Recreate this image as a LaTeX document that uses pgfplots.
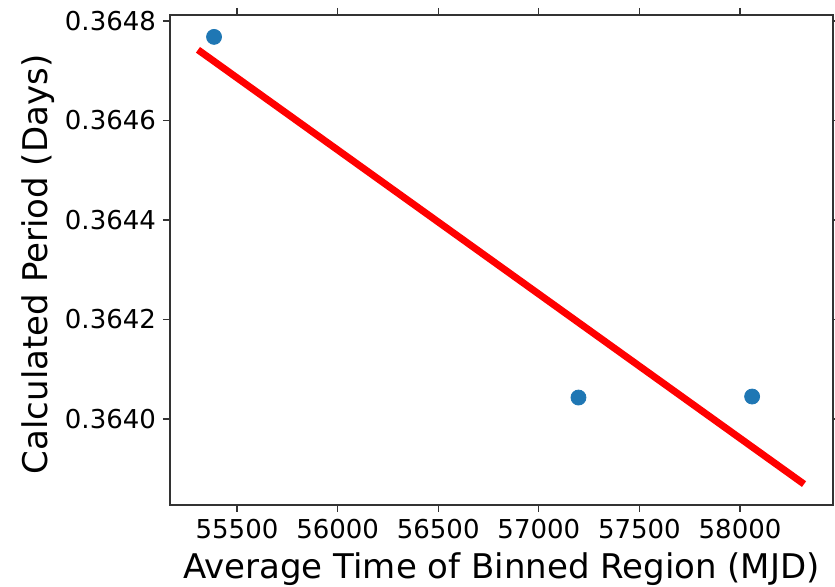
\documentclass[border=0pt]{standalone}
\usepackage{pgfplots}
\pgfplotsset{compat=1.18}
\usepackage{fontspec}
\setmainfont{DejaVu Sans}
\definecolor{mplblue}{HTML}{1F77B4}
\begin{document}
\begin{tikzpicture}
\begin{axis}[
  at={(0,0)}, anchor=south west,
  width=331.5pt, height=245pt, scale only axis,
  xmin=55167, xmax=58462,
  ymin=0.363827, ymax=0.364812,
  xtick={55500,56000,56500,57000,57500,58000},
  ytick={0.3640,0.3642,0.3644,0.3646,0.3648},
  scaled ticks=false,
  /pgf/number format/assume math mode=true,
  xticklabel style={/pgf/number format/set thousands separator={}, font=\fontsize{13pt}{15pt}\selectfont},
  yticklabel style={/pgf/number format/fixed, /pgf/number format/fixed zerofill, /pgf/number format/precision=4, font=\fontsize{13pt}{15pt}\selectfont},
  tick align=outside,
  major tick length=3.5pt,
  every tick/.style={black!80, line width=0.6pt},
  axis line style={black!80, line width=0.7pt},
  xlabel={Average Time of Binned Region (MJD)},
  ylabel={Calculated Period (Days)},
  xlabel style={font=\fontsize{17pt}{20pt}\selectfont, at={(axis description cs:0.5,-0.151)}, anchor=base},
  ylabel style={font=\fontsize{17pt}{20pt}\selectfont, at={(axis description cs:-0.1855,0.491)}, anchor=base},
  clip=false,
]
\addplot[red, line width=3.5pt] coordinates {(55306,0.364742) (58318,0.363869)};
\addplot[only marks, mark=*, mark size=3.75pt, mark options={draw=mplblue, fill=mplblue}] coordinates {
 (55386,0.364768) (57197,0.364043) (58060,0.364045)};
\end{axis}
\pgfresetboundingbox
\path (-85pt,-41pt) rectangle (332.5pt,252.5pt);
\end{tikzpicture}
\end{document}
